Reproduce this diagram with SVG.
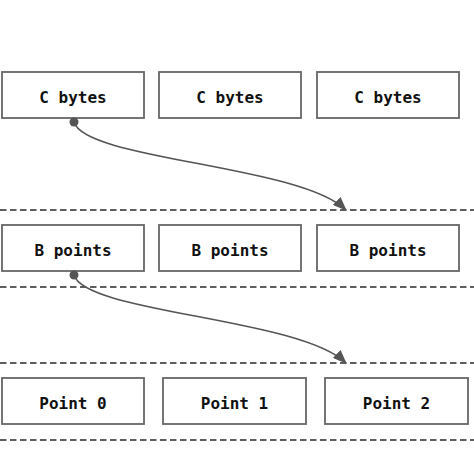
<svg xmlns="http://www.w3.org/2000/svg" width="474" height="474" viewBox="0 0 474 474">
<style>
.box{fill:#fff;stroke:#666;stroke-width:1.8}
.lbl{font-family:"DejaVu Sans Mono","Liberation Mono",monospace;font-weight:bold;font-size:16px;fill:#111;text-anchor:middle;dominant-baseline:central}
.sep{stroke:#2a2a2a;stroke-width:1.7;stroke-dasharray:6.5 3.5;fill:none}
.conn{fill:none;stroke:#555;stroke-width:1.6}
</style>
<defs>
<marker id="ah" viewBox="0 0 14 11" refX="13" refY="5.5" markerWidth="14" markerHeight="11" markerUnits="userSpaceOnUse" orient="auto">
<path d="M0,0 L14,5.5 L0,11 Z" fill="#555"/>
</marker>
</defs>
<rect width="474" height="474" fill="#fff"/>
<g id="separators">
<line class="sep" x1="0" y1="210" x2="474" y2="210"/>
<line class="sep" x1="0" y1="287" x2="474" y2="287"/>
<line class="sep" x1="0" y1="363" x2="474" y2="363"/>
<line class="sep" x1="0" y1="440" x2="474" y2="440"/>
</g>
<g id="c1"><rect class="box" x="2" y="72" width="142" height="46"/><text class="lbl" x="73" y="97">C bytes</text></g>
<g id="c2"><rect class="box" x="159" y="72" width="142" height="46"/><text class="lbl" x="230" y="97">C bytes</text></g>
<g id="c3"><rect class="box" x="317" y="72" width="142" height="46"/><text class="lbl" x="388" y="97">C bytes</text></g>
<g id="b1"><rect class="box" x="2" y="225" width="142" height="46"/><text class="lbl" x="73" y="250">B points</text></g>
<g id="b2"><rect class="box" x="159" y="225" width="142" height="46"/><text class="lbl" x="230" y="250">B points</text></g>
<g id="b3"><rect class="box" x="317" y="225" width="142" height="46"/><text class="lbl" x="388" y="250">B points</text></g>
<g id="p0"><rect class="box" x="2" y="378" width="142" height="46"/><text class="lbl" x="73" y="403">Point 0</text></g>
<g id="p1"><rect class="box" x="163" y="378" width="143" height="46"/><text class="lbl" x="234.5" y="403">Point 1</text></g>
<g id="p2"><rect class="box" x="325" y="378" width="143" height="46"/><text class="lbl" x="396.5" y="403">Point 2</text></g>
<g id="connectors">
<circle cx="74" cy="122" r="4.5" fill="#555"/>
<path class="conn" d="M74,122 C85,160 300,165 346,210" marker-end="url(#ah)"/>
<circle cx="74" cy="275" r="4.5" fill="#555"/>
<path class="conn" d="M74,275 C85,313 300,318 346,363" marker-end="url(#ah)"/>
</g>
</svg>
